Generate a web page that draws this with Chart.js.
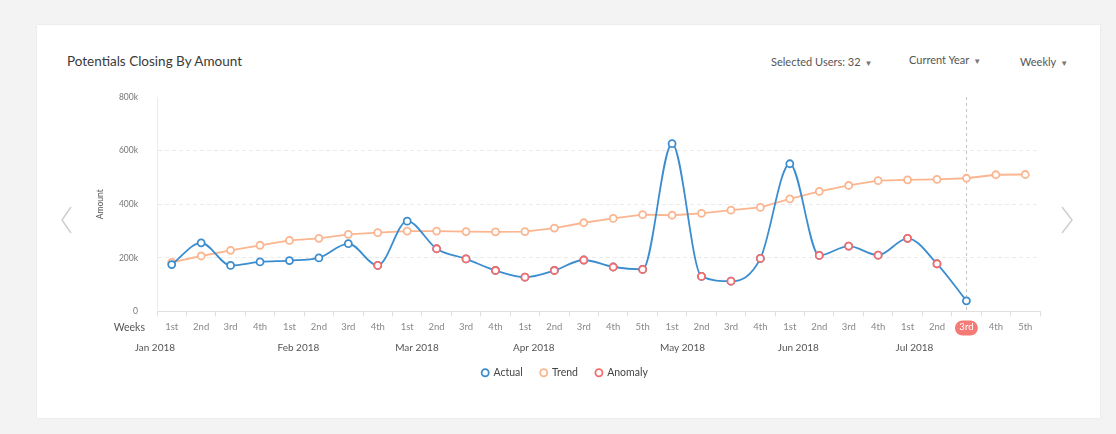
<!DOCTYPE html>
<html lang="en">
<head>
  <meta charset="UTF-8">
  <title>Potentials Closing By Amount</title>
  <style>
    body {
      margin: 0;
      padding: 0;
      width: 1116px;
      height: 434px;
      background-color: #f3f3f3;
      font-family: 'Lato', 'Open Sans', sans-serif;
      overflow: hidden;
    }
    .card {
      position: absolute;
      left: 37px;
      top: 25px;
      width: 1063px;
      height: 393px;
      background-color: #fff;
      box-shadow: 0 0 2px rgba(0, 0, 0, 0.08);
    }
    .title {
      position: absolute;
      left: 67px;
      top: 53px;
      font-size: 13.5px;
      color: #3a3a3a;
    }
    .dropdown {
      position: absolute;
      font-size: 11px;
      color: #555;
    }
    .dropdown .caret {
      font-size: 8px;
      margin-left: 4px;
      color: #777;
    }
    .chev {
      position: absolute;
    }
    #chart {
      position: absolute;
      left: 0;
      top: 0;
    }
  </style>
</head>
<body>
  <div class="card"></div>
  <div class="title">Potentials Closing By Amount</div>
  <div class="dropdown" style="left: 771px; top: 55px;">Selected Users: 32<span class="caret">&#9660;</span></div>
  <div class="dropdown" style="left: 909px; top: 53px;">Current Year<span class="caret">&#9660;</span></div>
  <div class="dropdown" style="left: 1020px; top: 55px;">Weekly<span class="caret">&#9660;</span></div>

  <svg class="chev" style="left: 58px; top: 204px;" width="20" height="32">
    <polyline points="13,3 4,16 13,29" fill="none" stroke="#cfcfcf" stroke-width="1.5"/>
  </svg>
  <svg class="chev" style="left: 1058px; top: 204px;" width="20" height="32">
    <polyline points="4,3 14,16 4,29" fill="none" stroke="#cfcfcf" stroke-width="1.5"/>
  </svg>

  <canvas id="chart" width="1116" height="434"></canvas>

  <script src="https://cdn.jsdelivr.net/npm/chart.js"></script>
  <script>
    // week labels, one per point
    const weekLabels = [
      '1st', '2nd', '3rd', '4th',
      '1st', '2nd', '3rd', '4th',
      '1st', '2nd', '3rd', '4th',
      '1st', '2nd', '3rd', '4th', '5th',
      '1st', '2nd', '3rd', '4th',
      '1st', '2nd', '3rd', '4th',
      '1st', '2nd', '3rd', '4th', '5th'
    ];
    // month names and the index of their first week
    const monthNames = ['Jan 2018', 'Feb 2018', 'Mar 2018', 'Apr 2018', 'May 2018', 'Jun 2018', 'Jul 2018'];
    const monthStart = [0, 4, 8, 12, 17, 21, 25];

    // amounts in thousands
    const actualData = [175, 256, 172, 185, 190, 200, 253, 172, 337, 234, 196, 153, 128, 153, 192,
                        166, 157, 626, 131, 113, 198, 551, 209, 244, 210, 273, 178, 40, null, null];
    const trendData = [183, 207, 228, 247, 265, 273, 288, 294, 300, 300, 298, 297, 298, 311, 331,
                       347, 361, 359, 366, 378, 388, 420, 448, 470, 488, 491, 493, 497, 510, 511];
    const anomalyData = [null, null, null, null, null, null, null, 172, null, 234, 196, 153, 128, 153, 192,
                         166, 157, null, 131, 113, 198, null, 209, 244, 210, 273, 178, null, null, null];

    const currentWeek = 27;

    const yTicks = [0, 200, 400, 600, 800];

    const BLUE = '#3b8dcf';
    const ORANGE = '#fbb58f';
    const RED = '#f46c6c';

    // pill behind the current week label, month row, weeks caption, marker line
    const extrasPlugin = {
      id: 'extras',
      beforeDraw(chart) {
        const ctx = chart.ctx;
        const x = chart.scales.x.getPixelForValue(currentWeek);
        const y = 328;
        const w = 23, h = 15, r = 7.5;
        ctx.save();
        ctx.fillStyle = '#f47a76';
        ctx.beginPath();
        ctx.roundRect(x - w / 2, y - h / 2, w, h, r);
        ctx.fill();
        ctx.restore();
      },
      beforeDatasetsDraw(chart) {
        const ctx = chart.ctx;
        const area = chart.chartArea;
        const x = Math.round(chart.scales.x.getPixelForValue(currentWeek)) + 0.5;
        ctx.save();
        ctx.strokeStyle = '#c4c4c4';
        ctx.lineWidth = 1;
        ctx.setLineDash([3, 3]);
        ctx.beginPath();
        ctx.moveTo(x, area.top);
        ctx.lineTo(x, area.bottom);
        ctx.stroke();
        ctx.restore();
      },
      afterDraw(chart) {
        const ctx = chart.ctx;
        const xs = chart.scales.x;
        ctx.save();
        ctx.font = '10.5px Lato';
        ctx.fillStyle = '#555';
        ctx.textBaseline = 'middle';
        ctx.textAlign = 'right';
        ctx.fillText('Weeks', xs.left - 12, 328);
        ctx.textAlign = 'left';
        ctx.font = '10px Lato';
        monthNames.forEach((m, i) => {
          const px = xs.getPixelForValue(monthStart[i]);
          ctx.fillText(m, px + (i === 0 ? -37 : -12), 348);
        });
        ctx.restore();
      }
    };

    new Chart(document.getElementById('chart'), {
      type: 'line',
      data: {
        labels: weekLabels,
        datasets: [
          {
            label: 'Actual',
            data: actualData,
            borderColor: BLUE,
            backgroundColor: '#fff',
            pointBorderColor: BLUE,
            pointBackgroundColor: '#fff',
            borderWidth: 1.8,
            pointRadius: 3.5,
            pointBorderWidth: 1.8,
            cubicInterpolationMode: 'monotone',
            order: 1
          },
          {
            label: 'Trend',
            data: trendData,
            borderColor: ORANGE,
            backgroundColor: '#fff',
            pointBorderColor: ORANGE,
            pointBackgroundColor: '#fff',
            borderWidth: 1.8,
            pointRadius: 3.5,
            pointBorderWidth: 1.8,
            tension: 0,
            order: 2
          },
          {
            label: 'Anomaly',
            data: anomalyData,
            showLine: false,
            borderColor: RED,
            backgroundColor: '#fff',
            pointBorderColor: RED,
            pointBackgroundColor: '#fff',
            borderWidth: 1.8,
            pointRadius: 3.5,
            pointBorderWidth: 1.8,
            order: 0
          }
        ]
      },
      options: {
        responsive: false,
        animation: false,
        layout: {
          padding: { top: 97, left: 90, right: 76, bottom: 46 }
        },
        plugins: {
          tooltip: { enabled: false },
          legend: {
            position: 'bottom',
            labels: {
              usePointStyle: true,
              pointStyle: 'circle',
              boxWidth: 6,
              boxHeight: 5,
              padding: 18,
              color: '#444',
              font: { family: 'Lato', size: 10.5 },
              sort: (a, b) => a.datasetIndex - b.datasetIndex
            }
          }
        },
        scales: {
          x: {
            offset: true,
            afterFit: (s) => { s.height = 38; },
            grid: {
              offset: true,
              drawOnChartArea: false,
              drawTicks: true,
              tickLength: 5,
              tickColor: '#e0e0e0'
            },
            border: { color: '#e0e0e0' },
            ticks: {
              autoSkip: false,
              maxRotation: 0,
              padding: 5,
              font: { family: 'Lato', size: 9.5 },
              color: (c) => c.index === currentWeek ? '#fff' : '#888'
            }
          },
          y: {
            min: 0,
            max: 800,
            afterFit: (s) => { s.width = 67; },
            afterBuildTicks: (s) => { s.ticks = yTicks.map(v => ({ value: v })); },
            grid: {
              drawTicks: false,
              color: (c) => (c.tick && (c.tick.value === 0 || c.tick.value === 800)) ? 'rgba(0,0,0,0)' : '#ebebeb'
            },
            border: { color: '#ececec', dash: [4, 3] },
            title: {
              display: true,
              text: 'Amount',
              color: '#555',
              font: { family: 'Lato', size: 8.5 },
              padding: { top: 5, bottom: 0 }
            },
            ticks: {
              padding: 19,
              font: { family: 'Lato', size: 8.5 },
              color: '#777',
              callback: (v) => v === 0 ? '0' : v + 'k'
            }
          }
        }
      },
      plugins: [extrasPlugin]
    });
  </script>
</body>
</html>
